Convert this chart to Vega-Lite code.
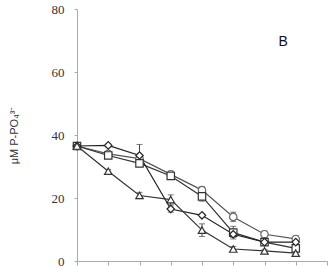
{
  "$schema": "https://vega.github.io/schema/vega-lite/v6.json",
  "width": 250,
  "height": 252,
  "autosize": {"type": "none"},
  "padding": {"left": 77, "top": 9, "right": 4, "bottom": 6},
  "background": "white",
  "config": {"view": {"stroke": null}},
  "datasets": {
    "main": [
      {"t": 0, "s": "circle", "v": 36.5, "e": 0.5},
      {"t": 1, "s": "circle", "v": 34, "e": 0.5},
      {"t": 2, "s": "circle", "v": 32.5, "e": 0.5},
      {"t": 3, "s": "circle", "v": 27.5, "e": 1},
      {"t": 4, "s": "circle", "v": 22.5, "e": 1},
      {"t": 5, "s": "circle", "v": 14, "e": 1.5},
      {"t": 6, "s": "circle", "v": 8.5, "e": 1},
      {"t": 7, "s": "circle", "v": 7, "e": 1},
      {"t": 0, "s": "square", "v": 36.5, "e": 0.5},
      {"t": 1, "s": "square", "v": 33.5, "e": 0.5},
      {"t": 2, "s": "square", "v": 31, "e": 0.5},
      {"t": 3, "s": "square", "v": 27, "e": 1},
      {"t": 4, "s": "square", "v": 20.5, "e": 1.5},
      {"t": 5, "s": "square", "v": 9, "e": 2},
      {"t": 6, "s": "square", "v": 6, "e": 1},
      {"t": 7, "s": "square", "v": 4, "e": 1},
      {"t": 0, "s": "diamond", "v": 36.5, "e": 0.5},
      {"t": 1, "s": "diamond", "v": 36.7, "e": 0.5},
      {"t": 2, "s": "diamond", "v": 33.5, "e": 3.5},
      {"t": 3, "s": "diamond", "v": 16.5, "e": 1},
      {"t": 4, "s": "diamond", "v": 14.5, "e": 0.5},
      {"t": 5, "s": "diamond", "v": 8.5, "e": 1},
      {"t": 6, "s": "diamond", "v": 6, "e": 1},
      {"t": 7, "s": "diamond", "v": 6, "e": 1},
      {"t": 0, "s": "triangle", "v": 36.5, "e": 0.5},
      {"t": 1, "s": "triangle", "v": 28.5, "e": 0.5},
      {"t": 2, "s": "triangle", "v": 20.8, "e": 1},
      {"t": 3, "s": "triangle", "v": 19.5, "e": 1.5},
      {"t": 4, "s": "triangle", "v": 9.8, "e": 2},
      {"t": 5, "s": "triangle", "v": 3.8, "e": 0.8},
      {"t": 6, "s": "triangle", "v": 3.2, "e": 0.5},
      {"t": 7, "s": "triangle", "v": 2.5, "e": 0.5}
    ],
    "label": [{"t": 6.6, "v": 69.5, "txt": "B"}]
  },
  "encoding": {
    "x": {"field": "t", "type": "quantitative", "scale": {"domain": [0, 8]},
      "axis": {"values": [0,1,2,3,4,5,6,7,8], "labels": false, "title": null, "grid": false,
        "domainColor": "#aaaaaa", "tickColor": "#aaaaaa", "tickSize": 4}},
    "y": {"field": "v", "type": "quantitative", "scale": {"domain": [0, 80]},
      "axis": {"values": [0,20,40,60,80], "grid": false, "domainColor": "#aaaaaa", "tickColor": "#aaaaaa",
        "tickSize": 3, "labelPadding": 10, "labelFont": "Liberation Sans Narrow", "labelFontSize": 13,
        "labelColor": "#333333", "title": "μM P-PO₄³⁻", "titleFont": "Liberation Sans",
        "titleFontSize": 11, "titleFontWeight": "normal", "titleColor": "#333333", "titleX": -63, "titleY": 126, "titleAlign": "center", "titleBaseline": "middle"}}
  },
  "layer": [
    {
      "data": {"name": "main"},
      "mark": {"type": "line", "strokeWidth": 1.2},
      "encoding": {
        "detail": {"field": "s"},
        "color": {"field": "s", "type": "nominal", "legend": null,
          "scale": {"domain": ["circle","square","diamond","triangle"], "range": ["#555555","#333333","#222222","#333333"]}}
      }
    },
    {
      "data": {"name": "main"},
      "mark": {"type": "errorbar", "ticks": {"size": 6}, "color": "#444444"},
      "encoding": {
        "yError": {"field": "e"},
        "detail": {"field": "s"}
      }
    },
    {
      "data": {"name": "main"},
      "mark": {"type": "point", "filled": false, "fill": "white", "fillOpacity": 1, "strokeWidth": 1.2, "size": 55, "opacity": 1},
      "encoding": {
        "shape": {"field": "s", "type": "nominal", "legend": null,
          "scale": {"domain": ["circle","square","diamond","triangle"], "range": ["circle","square","diamond","triangle-up"]}},
        "stroke": {"field": "s", "type": "nominal", "legend": null,
          "scale": {"domain": ["circle","square","diamond","triangle"], "range": ["#666666","#333333","#222222","#333333"]}}
      }
    },
    {
      "data": {"name": "label"},
      "mark": {"type": "text", "font": "Liberation Sans", "fontSize": 14, "color": "#111111", "align": "center", "baseline": "middle"},
      "encoding": {
        "text": {"field": "txt"}
      }
    }
  ]
}
